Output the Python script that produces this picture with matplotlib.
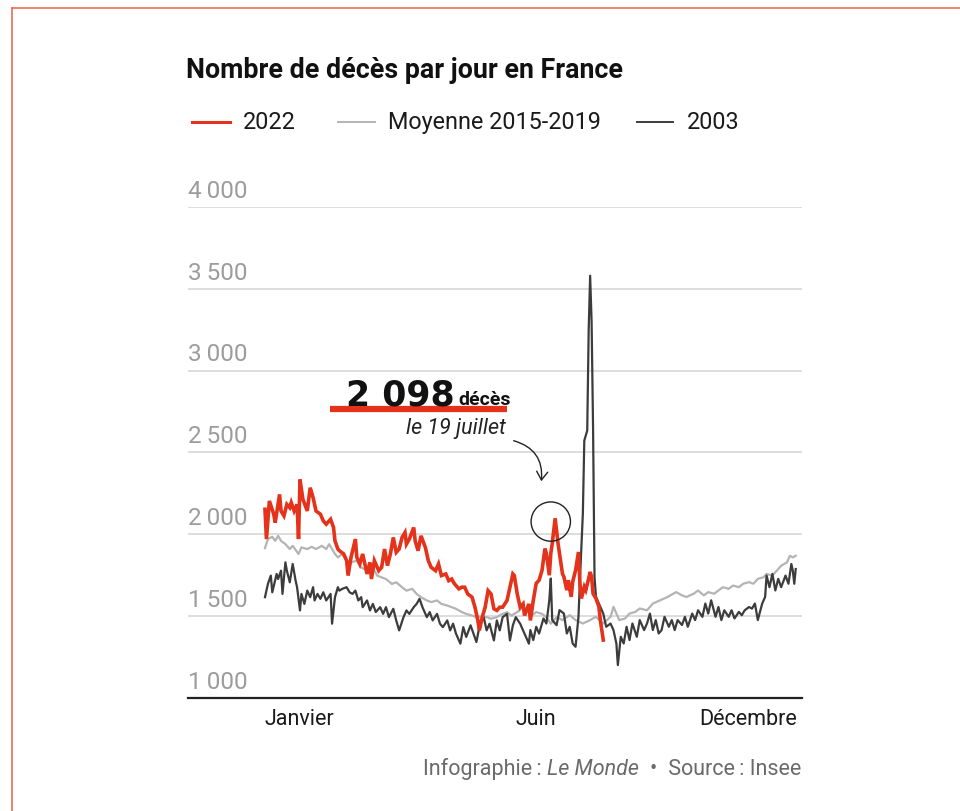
import matplotlib
matplotlib.use("Agg")
import matplotlib.pyplot as plt
from matplotlib.lines import Line2D
from matplotlib.patches import Ellipse, FancyArrowPatch

# --- données (jour de l'année, 0 = 1er janvier) ---
days_2022 = [0, 1, 3, 6, 7, 10, 11, 13, 15, 17, 18, 20, 22, 23, 24, 26, 29, 31, 33, 35,
             38, 40, 42, 45, 47, 48, 50, 51, 54, 56, 57, 59, 62, 63, 65, 67, 70, 72, 73, 75,
             78, 80, 82, 84, 86, 88, 90, 92, 94, 96, 97, 99, 102, 103, 105, 107, 110, 112, 114, 117,
             119, 121, 124, 126, 128, 130, 133, 135, 137, 139, 142, 144, 146, 147, 149, 151, 153, 155, 157, 159,
             161, 163, 166, 168, 170, 171, 173, 175, 177, 178, 181, 182, 184, 186, 188, 190, 192, 193, 195, 196,
             197, 199, 201, 202, 204, 205, 207, 208, 210, 211, 213, 215, 216, 217, 219, 220, 222, 223, 224, 225,
             227, 229, 230, 232]
deces_2022 = [2153, 1971, 2204, 2123, 2072, 2244, 2143, 2113, 2183, 2163, 2194, 2143, 2183, 1971, 2335, 2214, 2143, 2285, 2224, 2143,
              2123, 2082, 2062, 2092, 2042, 1960, 1910, 1900, 1880, 1839, 1748, 1859, 1971, 1859, 1819, 1880, 1758, 1829, 1727, 1839,
              1778, 1798, 1910, 1809, 1880, 1981, 1890, 1910, 1981, 2011, 1940, 1971, 2042, 1960, 1900, 1991, 1920, 1839, 1798, 1778,
              1819, 1748, 1758, 1717, 1727, 1697, 1667, 1677, 1677, 1636, 1616, 1555, 1474, 1413, 1494, 1555, 1656, 1636, 1545, 1535,
              1555, 1555, 1596, 1677, 1758, 1748, 1636, 1555, 1575, 1504, 1575, 1474, 1596, 1700, 1720, 1780, 1913, 1882, 1750, 1882,
              1943, 2098, 1943, 1882, 1760, 1740, 1659, 1720, 1618, 1709, 1780, 1892, 1699, 1608, 1679, 1659, 1730, 1770, 1740, 1638,
              1608, 1557, 1476, 1354]

days_moy = [0, 2, 5, 7, 9, 11, 14, 17, 19, 23, 25, 29, 32, 35, 39, 42, 44, 48, 50, 53,
            56, 59, 63, 66, 70, 73, 77, 80, 83, 87, 90, 94, 97, 101, 104, 107, 111, 114, 118, 121,
            125, 128, 131, 135, 138, 142, 145, 148, 152, 155, 159, 162, 166, 169, 173, 176, 180, 183, 186, 190,
            193, 196, 200, 204, 209, 213, 218, 223, 227, 232, 237, 239, 241, 243, 247, 250, 254, 257, 262, 266,
            271, 276, 280, 282, 286, 289, 294, 297, 301, 304, 308, 311, 314, 318, 321, 325, 328, 332, 335, 338,
            342, 344, 348, 351, 354, 358, 360, 362, 364]
deces_moy = [1916, 1971, 1985, 1960, 1991, 1960, 1940, 1910, 1930, 1880, 1920, 1910, 1924, 1910, 1930, 1910, 1940, 1880, 1859, 1880,
             1839, 1829, 1839, 1798, 1778, 1809, 1748, 1737, 1727, 1697, 1707, 1677, 1656, 1667, 1636, 1616, 1596, 1586, 1596, 1575,
             1565, 1555, 1545, 1525, 1514, 1504, 1494, 1498, 1494, 1484, 1494, 1510, 1525, 1504, 1525, 1545, 1535, 1504, 1525, 1514,
             1494, 1454, 1494, 1476, 1506, 1476, 1455, 1476, 1496, 1455, 1496, 1557, 1516, 1476, 1486, 1516, 1526, 1547, 1536, 1577,
             1597, 1617, 1637, 1647, 1627, 1617, 1637, 1657, 1627, 1647, 1637, 1657, 1677, 1667, 1687, 1677, 1698, 1708, 1698, 1728,
             1738, 1758, 1748, 1778, 1808, 1829, 1869, 1859, 1869]

days_2003 = [0, 2, 4, 5, 8, 9, 11, 12, 14, 15, 17, 19, 21, 22, 24, 25, 27, 29, 31, 33,
             34, 36, 38, 40, 42, 45, 46, 48, 50, 51, 53, 56, 58, 60, 62, 64, 66, 67, 70, 72,
             74, 76, 79, 81, 83, 85, 88, 90, 92, 95, 97, 99, 102, 104, 106, 108, 111, 113, 115, 118,
             120, 122, 125, 127, 129, 131, 134, 136, 138, 141, 143, 145, 147, 150, 152, 154, 157, 159, 161, 163,
             166, 168, 170, 172, 175, 177, 179, 181, 182, 184, 186, 188, 191, 193, 195, 196, 197, 200, 202, 205,
             207, 209, 211, 213, 215, 216, 218, 219, 221, 222, 223, 224, 225, 226, 227, 230, 232, 234, 237, 239,
             241, 242, 244, 246, 248, 250, 252, 255, 257, 260, 262, 264, 266, 268, 270, 272, 274, 277, 279, 281,
             283, 286, 288, 290, 293, 295, 297, 300, 302, 304, 306, 309, 311, 313, 315, 318, 320, 322, 325, 327,
             329, 332, 334, 336, 338, 341, 343, 344, 346, 348, 350, 352, 354, 357, 359, 361, 362, 363, 364]
deces_2003 = [1616, 1697, 1748, 1646, 1758, 1727, 1778, 1636, 1829, 1778, 1707, 1819, 1717, 1677, 1535, 1636, 1575, 1656, 1616, 1677,
              1596, 1636, 1606, 1646, 1596, 1636, 1454, 1616, 1677, 1656, 1667, 1677, 1646, 1636, 1656, 1596, 1616, 1555, 1596, 1535,
              1575, 1525, 1555, 1514, 1555, 1494, 1545, 1474, 1413, 1494, 1535, 1514, 1555, 1575, 1606, 1555, 1494, 1525, 1474, 1514,
              1454, 1433, 1474, 1413, 1454, 1393, 1332, 1433, 1373, 1444, 1393, 1342, 1433, 1494, 1413, 1454, 1352, 1474, 1413, 1494,
              1514, 1352, 1444, 1494, 1454, 1413, 1373, 1332, 1415, 1354, 1435, 1394, 1486, 1455, 1598, 1730, 1476, 1445, 1537, 1516,
              1394, 1435, 1333, 1313, 1496, 1720, 2126, 2573, 2634, 3250, 3580, 3300, 2655, 1740, 1618, 1557, 1516, 1435, 1455, 1415,
              1333, 1201, 1374, 1333, 1435, 1354, 1455, 1374, 1476, 1415, 1455, 1516, 1415, 1476, 1394, 1415, 1496, 1435, 1476, 1415,
              1476, 1446, 1496, 1435, 1516, 1476, 1536, 1496, 1577, 1516, 1597, 1496, 1556, 1476, 1536, 1496, 1536, 1486, 1526, 1506,
              1536, 1556, 1546, 1577, 1476, 1577, 1617, 1748, 1677, 1758, 1657, 1728, 1677, 1748, 1698, 1819, 1778, 1698, 1788]

yticks = [1000, 1500, 2000, 2500, 3000, 3500, 4000]
ytick_labels = ["1\u2009000", "1\u2009500", "2\u2009000", "2\u2009500", "3\u2009000", "3\u2009500", "4\u2009000"]
mois = ["Janvier", "Juin", "Décembre"]
mois_jour = [0, 186, 365]
mois_ha = ["left", "center", "right"]
pic_jour, pic_valeur = 199, 2098

ROUGE = "#e4321b"
GRIS = "#b4b4b4"
NOIR = "#3c3c3c"
FONT = ["Roboto", "DejaVu Sans"]

W, H = 960, 811


def fx(x):
    return x / W


def fy(y):
    return 1 - y / H


fig = plt.figure(figsize=(W / 100, H / 100), dpi=100)
fig.patch.set_facecolor("white")

# cadre rouge (bord gauche et haut)
fig.add_artist(Line2D([fx(12), fx(12)], [0, fy(8)], color="#ee6a5a", lw=1.2))
fig.add_artist(Line2D([fx(12), 1], [fy(8), fy(8)], color="#ee6a5a", lw=1.2))

ax = fig.add_axes([fx(188), fy(698), (802 - 188) / W, (698 - 207) / H])
ax.set_xlim(-52.8, 368.3)
ax.set_ylim(1000, 4000)
for s in ax.spines.values():
    s.set_visible(False)
ax.set_xticks([])
ax.set_yticks([])
ax.patch.set_alpha(0)

for v, lab in zip(yticks, ytick_labels):
    if v > 1000:
        ax.axhline(v, color="#dadada", lw=1.3, zorder=0)
    ax.annotate(lab, xy=(0, v), xycoords=("axes fraction", "data"), xytext=(0, 3),
                textcoords="offset points", ha="left", va="bottom", fontsize=17.5,
                color="#9c9c9c", family=FONT)
ax.axhline(1000, color="#222222", lw=1.6, zorder=5, clip_on=False)

for lab, d, ha in zip(mois, mois_jour, mois_ha):
    ax.annotate(lab, xy=(d, 1000), xytext=(0, -8), textcoords="offset points",
                ha=ha, va="top", fontsize=15.5, color="#1a1a1a", family=FONT)

ax.plot(days_moy, deces_moy, color=GRIS, lw=1.6, zorder=2)
ax.plot(days_2003, deces_2003, color=NOIR, lw=1.6, zorder=3)
ax.plot(days_2022, deces_2022, color=ROUGE, lw=2.6, zorder=4, solid_joinstyle="miter")

# cercle autour du pic
ax.add_patch(Ellipse((pic_jour - 3, pic_valeur - 20), width=27, height=240, fill=False,
                     ec="#222222", lw=1.0, zorder=6))

# flèche courbe
fig.add_artist(FancyArrowPatch((fx(511), fy(440)), (fx(541), fy(484)),
                               transform=fig.transFigure, connectionstyle="arc3,rad=-0.45",
                               arrowstyle="->,head_length=6,head_width=4", lw=1.0, color="#222222"))

# annotation du pic
fig.add_artist(Line2D([fx(330), fx(507)], [fy(409), fy(409)], color=ROUGE, lw=4.5,
                      solid_capstyle="butt"))
fig.text(fx(455), fy(405), "2 098", ha="right", va="baseline", fontsize=25,
         fontweight="bold", family=["DejaVu Sans"], color="#111111")
fig.text(fx(458), fy(405), "décès", ha="left", va="baseline", fontsize=14,
         fontweight="bold", family=FONT, color="#111111")
fig.text(fx(506), fy(434), "le 19 juillet", ha="right", va="baseline", fontsize=15.5,
         style="italic", family=FONT, color="#222222")

# titre et légende
fig.text(fx(186), fy(78), "Nombre de décès par jour en France", ha="left", va="baseline",
         fontsize=19.3, fontweight="bold", family=FONT, color="#111111")

legende = [("2022", ROUGE, 192, 230, 243), ("Moyenne 2015-2019", GRIS, 338, 375, 388),
           ("2003", NOIR, 637, 673, 687)]
for lab, col, x0, x1, xt in legende:
    fig.add_artist(Line2D([fx(x0), fx(x1)], [fy(122), fy(122)], color=col,
                          lw=2.2 if col == ROUGE else 1.4))
    fig.text(fx(xt), fy(129), lab, ha="left", va="baseline", fontsize=16.8,
             family=FONT, color="#1a1a1a")

# source (composée de droite à gauche)
r = fig.canvas.get_renderer()
morceaux = [("\u2002\u2022\u2002Source\u2009: Insee", "normal"), ("Le Monde", "italic"),
            ("Infographie\u2009: ", "normal")]
x_droite = 801
for txt, st in morceaux:
    t = fig.text(fx(x_droite), fy(775), txt, ha="right", va="baseline", fontsize=15.5,
                 style=st, family=FONT, color="#6a6a6a")
    bb = t.get_window_extent(renderer=r)
    x_droite -= bb.width

fig.savefig("out.png", dpi=100, facecolor="white")
